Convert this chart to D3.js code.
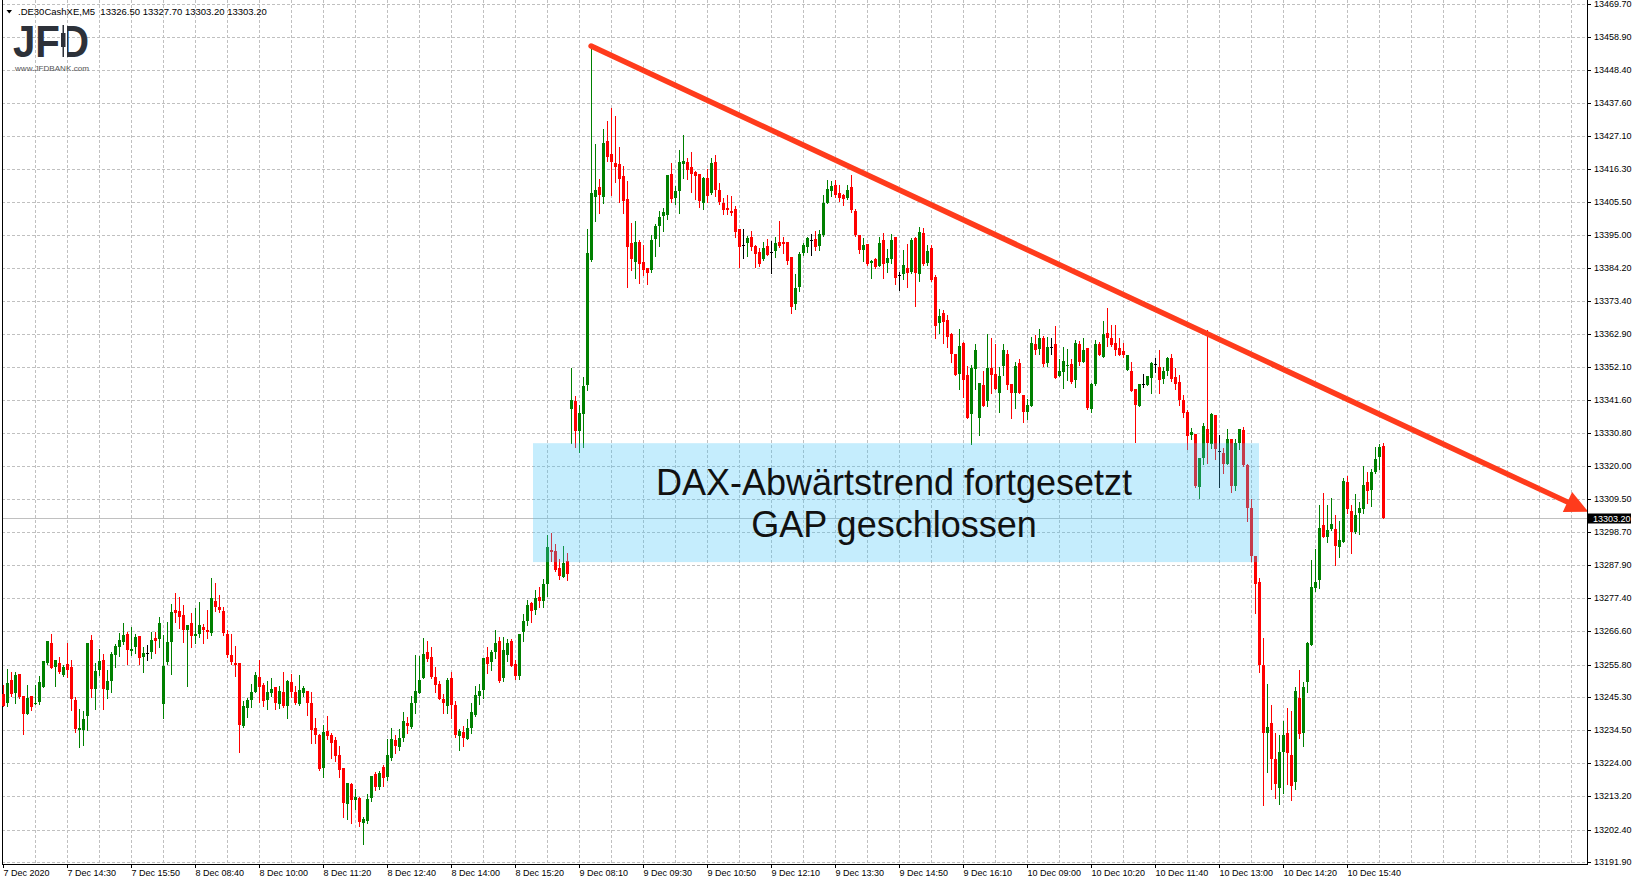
<!DOCTYPE html>
<html><head><meta charset="utf-8">
<script src="https://cdn.jsdelivr.net/npm/d3@7"></script>
<style>
html,body{margin:0;padding:0;background:#fff;overflow:hidden}
svg{display:block;font-family:"Liberation Sans",Arial,sans-serif}
</style>
</head><body>
<svg id="chart" width="1637" height="886"></svg>
<script>
// ---------- data ----------
const symbol = ".DE30CashXE,M5";
const timeLabels = ["7 Dec 2020","7 Dec 14:30","7 Dec 15:50","8 Dec 08:40","8 Dec 10:00","8 Dec 11:20","8 Dec 12:40","8 Dec 14:00","8 Dec 15:20","9 Dec 08:10","9 Dec 09:30","9 Dec 10:50","9 Dec 12:10","9 Dec 13:30","9 Dec 14:50","9 Dec 16:10","10 Dec 09:00","10 Dec 10:20","10 Dec 11:40","10 Dec 13:00","10 Dec 14:20","10 Dec 15:40"];
const barsPerLabel = 16;
const priceTicks = [13469.70,13458.90,13448.40,13437.60,13427.10,13416.30,13405.50,13395.00,13384.20,13373.40,13362.90,13352.10,13341.60,13330.80,13320.00,13309.50,13298.70,13287.90,13277.40,13266.60,13255.80,13245.30,13234.50,13224.00,13213.20,13202.40,13191.90];

const openP = [13246.2,13243.5,13250.8,13246.6,13252.7,13245.6,13239.8,13245.6,13243.0,13243.7,
13248.7,13256.3,13262.7,13255.0,13256.3,13252.4,13255.9,13255.0,13244.3,13234.6,
13234.6,13239.1,13263.7,13247.9,13254.0,13257.2,13247.5,13250.4,13258.9,13261.4,
13263.1,13265.6,13260.2,13261.4,13265.0,13258.2,13259.7,13259.8,13264.3,13264.0,
13243.0,13256.6,13263.1,13273.4,13273.1,13271.8,13266.9,13269.2,13265.0,13265.6,
13267.9,13266.9,13266.0,13276.3,13274.4,13273.1,13265.6,13258.9,13256.3,13256.3,
13235.9,13241.7,13244.3,13246.9,13251.7,13249.1,13244.3,13246.6,13248.5,13243.0,
13246.9,13242.4,13250.1,13246.9,13243.0,13246.6,13247.2,13243.3,13235.2,13233.0,
13222.3,13234.3,13233.0,13231.4,13226.5,13222.3,13210.7,13217.1,13212.0,13212.6,
13204.5,13205.2,13212.6,13220.4,13216.2,13222.6,13219.4,13225.5,13231.4,13229.1,
13232.0,13236.9,13235.6,13243.3,13246.6,13251.4,13259.8,13258.2,13251.7,13249.5,
13244.6,13242.4,13251.4,13242.7,13232.7,13233.9,13231.7,13235.2,13239.4,13245.6,
13247.5,13258.2,13256.6,13259.8,13263.4,13251.4,13258.8,13263.4,13255.9,13252.1,
13266.3,13269.8,13275.7,13273.4,13277.6,13276.3,13281.8,13292.8,13292.5,13287.0,
13284.1,13289.2,13338.7,13341.3,13331.6,13337.1,13346.2,13386.9,13407.3,13410.5,
13407.3,13425.4,13421.2,13418.3,13418.0,13414.1,13406.6,13392.4,13386.3,13392.7,
13386.3,13384.3,13383.7,13393.7,13397.9,13401.2,13401.5,13414.7,13407.0,13409.2,
13418.0,13418.6,13417.0,13415.4,13414.7,13405.4,13413.4,13408.6,13418.6,13409.6,
13405.4,13403.7,13402.8,13403.4,13396.9,13391.8,13392.4,13394.4,13391.4,13389.5,
13387.2,13391.4,13389.5,13389.8,13392.7,13392.7,13392.7,13387.9,13372.7,13378.2,
13389.2,13391.1,13393.4,13393.7,13391.4,13395.0,13405.3,13409.2,13411.2,13408.6,
13407.9,13407.0,13410.5,13402.8,13395.0,13390.1,13392.1,13385.9,13387.2,13385.0,
13393.4,13385.9,13387.2,13394.4,13381.9,13382.4,13384.3,13383.0,13394.0,13382.4,
13395.6,13385.9,13390.8,13381.4,13366.5,13369.8,13367.5,13363.0,13356.5,13350.0,
13360.1,13349.5,13336.8,13351.6,13335.8,13346.2,13341.0,13351.7,13350.0,13343.9,
13352.6,13356.5,13346.8,13343.9,13353.6,13343.2,13337.7,13339.4,13359.7,13358.1,
13361.7,13353.6,13358.8,13359.7,13349.4,13350.7,13352.7,13353.3,13347.8,13359.7,
13353.9,13358.4,13338.7,13346.8,13359.7,13355.5,13363.3,13361.7,13360.1,13358.4,
13357.5,13351.3,13351.0,13345.2,13339.7,13346.8,13346.5,13348.7,13353.2,13352.2,
13348.4,13350.9,13355.1,13349.0,13347.3,13341.4,13337.6,13330.3,13330.6,13313.3,
13322.8,13332.2,13327.4,13336.5,13325.0,13324.4,13320.8,13329.0,13313.6,13327.6,
13331.8,13320.4,13306.4,13291.1,13282.7,13255.8,13233.6,13236.8,13225.2,13216.0,
13227.4,13233.6,13226.5,13217.7,13244.9,13233.8,13250.2,13262.2,13280.6,13283.2,
13300.9,13297.1,13299.6,13299.6,13293.9,13295.5,13314.8,13305.7,13298.7,13304.8,
13306.2,13314.8,13312.3,13318.3,13322.9,13326.5];

const highP = [13249.2,13254.3,13253.3,13253.3,13252.7,13245.8,13249.2,13245.6,13249.2,13252.1,
13256.9,13263.4,13265.6,13257.2,13258.2,13255.6,13262.7,13257.2,13245.3,13241.4,
13240.7,13262.7,13265.3,13256.3,13260.8,13259.2,13254.0,13259.8,13262.4,13266.0,
13269.2,13266.3,13267.9,13265.6,13265.0,13261.4,13262.1,13266.3,13266.3,13271.1,
13265.3,13269.5,13275.4,13278.9,13277.6,13275.0,13268.6,13272.4,13274.1,13276.0,
13268.9,13273.4,13283.8,13282.1,13278.3,13274.4,13266.9,13265.6,13261.7,13256.3,
13244.0,13245.0,13249.5,13253.3,13257.2,13249.8,13250.4,13251.4,13248.5,13248.8,
13253.3,13250.8,13252.7,13248.8,13252.4,13248.8,13247.2,13246.9,13238.5,13233.3,
13236.2,13239.1,13233.6,13232.3,13229.4,13222.3,13217.5,13217.5,13215.5,13212.9,
13206.5,13213.9,13219.7,13221.0,13221.3,13223.3,13231.7,13235.2,13233.0,13234.9,
13240.4,13238.8,13245.6,13258.9,13258.5,13264.3,13263.4,13261.4,13255.0,13250.4,
13246.2,13251.4,13253.4,13244.0,13234.9,13235.9,13238.1,13243.3,13248.8,13249.5,
13257.9,13261.4,13260.5,13266.9,13264.7,13264.7,13264.0,13264.0,13257.2,13265.6,
13272.1,13276.6,13276.0,13279.9,13280.8,13283.4,13297.7,13298.3,13294.7,13289.9,
13294.1,13291.8,13352.0,13342.9,13340.0,13348.8,13396.9,13456.5,13424.4,13413.1,
13429.3,13431.9,13436.1,13433.5,13423.5,13417.3,13412.5,13398.9,13399.5,13393.4,
13391.8,13384.3,13395.0,13398.6,13402.8,13403.7,13414.4,13418.3,13410.8,13422.5,
13427.3,13419.9,13421.8,13415.7,13414.7,13413.8,13416.3,13419.9,13420.9,13411.8,
13407.0,13407.9,13407.6,13404.4,13396.9,13396.9,13394.7,13396.3,13391.8,13390.8,
13392.7,13393.7,13393.1,13394.4,13399.5,13394.4,13392.7,13387.9,13382.4,13389.5,
13392.4,13394.4,13395.3,13396.3,13396.6,13407.9,13412.8,13412.5,13412.8,13411.2,
13408.3,13411.2,13414.4,13403.4,13395.0,13394.0,13392.1,13386.9,13387.6,13394.4,
13395.6,13390.5,13395.3,13394.4,13383.0,13390.1,13392.1,13394.0,13394.4,13397.6,
13397.3,13391.8,13391.8,13382.1,13371.1,13370.7,13369.1,13363.3,13356.5,13364.6,
13360.4,13352.5,13352.9,13359.7,13347.1,13351.0,13363.0,13361.7,13359.7,13352.3,
13359.7,13357.8,13346.8,13353.9,13354.6,13343.2,13341.9,13362.0,13362.6,13364.6,
13362.3,13362.0,13361.7,13365.6,13354.9,13358.8,13358.1,13354.6,13361.0,13360.7,
13361.4,13358.4,13347.1,13361.0,13360.4,13367.2,13371.4,13365.9,13365.9,13361.7,
13360.1,13356.2,13353.9,13345.2,13346.8,13350.0,13349.4,13353.9,13355.1,13357.7,
13352.2,13355.4,13356.5,13351.9,13349.6,13343.1,13338.3,13332.5,13330.6,13322.8,
13334.0,13364.2,13337.3,13336.7,13330.3,13326.1,13332.1,13329.0,13328.7,13332.2,
13332.9,13320.7,13309.3,13291.1,13283.7,13264.5,13249.5,13242.7,13233.8,13233.0,
13237.5,13241.7,13240.7,13248.5,13254.0,13250.1,13263.0,13289.6,13293.1,13307.4,
13311.5,13307.4,13309.6,13304.1,13302.2,13316.1,13317.0,13307.4,13311.2,13308.3,
13320.0,13318.3,13319.3,13326.4,13327.4,13327.7];

const lowP = [13242.5,13242.5,13245.7,13243.3,13245.1,13233.3,13239.8,13241.1,13243.0,13243.0,
13248.4,13255.9,13254.7,13248.8,13253.0,13252.1,13251.7,13241.1,13233.9,13229.1,
13229.8,13234.6,13245.3,13241.4,13252.4,13241.4,13245.0,13246.9,13255.0,13258.5,
13262.4,13256.0,13258.9,13259.5,13256.0,13253.4,13257.2,13257.9,13259.5,13261.4,
13238.5,13255.9,13252.7,13269.5,13267.6,13263.1,13248.8,13261.4,13262.7,13264.7,
13262.7,13264.3,13265.3,13273.1,13272.8,13265.3,13258.2,13255.9,13252.2,13227.6,
13235.6,13238.8,13242.0,13246.9,13243.6,13242.4,13241.4,13245.6,13241.4,13241.7,
13242.0,13238.5,13245.3,13243.0,13242.7,13245.6,13239.5,13230.4,13230.4,13221.7,
13219.4,13231.7,13225.5,13224.6,13219.4,13206.5,13205.8,13204.5,13209.0,13203.5,
13197.7,13204.5,13211.6,13215.2,13215.5,13216.5,13218.4,13224.9,13227.2,13228.1,
13231.0,13233.6,13235.2,13240.1,13246.6,13251.4,13256.9,13251.4,13246.9,13244.6,
13240.1,13240.0,13238.5,13232.3,13228.1,13229.4,13231.7,13233.6,13239.1,13243.0,
13244.9,13253.0,13254.0,13257.9,13250.1,13250.4,13256.9,13255.3,13251.1,13251.1,
13263.4,13268.5,13269.5,13272.1,13274.4,13274.4,13277.9,13289.3,13286.0,13283.4,
13284.1,13283.1,13327.7,13326.4,13324.8,13326.4,13344.6,13386.6,13399.5,13402.1,
13405.4,13418.9,13407.9,13412.1,13405.7,13402.1,13378.2,13383.7,13381.1,13379.5,
13382.1,13379.2,13383.0,13388.2,13391.4,13396.3,13400.2,13405.7,13405.0,13402.1,
13413.4,13413.1,13408.9,13406.6,13404.1,13403.4,13405.7,13408.3,13407.6,13405.0,
13401.8,13401.8,13401.5,13394.4,13384.7,13387.6,13388.2,13390.1,13384.7,13385.0,
13386.9,13388.5,13382.7,13387.9,13391.1,13389.2,13385.6,13369.8,13370.8,13376.9,
13388.5,13389.5,13388.5,13390.1,13390.1,13394.7,13405.3,13407.6,13407.3,13406.0,
13404.7,13406.6,13402.4,13394.7,13389.2,13386.6,13385.3,13381.1,13384.3,13385.0,
13381.1,13383.0,13385.9,13379.1,13377.2,13380.8,13378.2,13382.7,13372.0,13380.1,
13385.3,13385.3,13380.1,13361.7,13363.3,13360.1,13358.5,13353.9,13349.7,13345.2,
13342.6,13335.8,13327.1,13344.9,13330.3,13339.7,13339.4,13343.6,13344.9,13337.7,
13349.7,13345.2,13335.8,13339.0,13343.6,13334.5,13335.2,13339.4,13356.5,13356.5,
13352.6,13352.6,13356.5,13348.7,13349.4,13345.5,13348.1,13347.1,13345.8,13352.9,
13353.9,13338.7,13337.7,13346.5,13355.9,13355.5,13359.1,13359.1,13356.2,13356.2,
13355.5,13351.3,13344.5,13328.0,13339.7,13345.8,13346.2,13343.9,13350.5,13343.6,
13347.0,13349.6,13347.7,13345.1,13339.9,13335.9,13325.7,13328.9,13313.4,13309.8,
13320.9,13321.1,13325.9,13322.4,13313.4,13318.0,13320.8,13311.7,13312.5,13325.5,
13320.1,13302.4,13289.5,13272.4,13253.4,13210.3,13220.9,13215.5,13212.5,13210.7,
13214.2,13217.1,13212.0,13215.5,13231.9,13229.5,13247.0,13262.2,13279.5,13280.6,
13297.2,13295.5,13299.3,13288.0,13290.6,13295.5,13304.8,13291.9,13298.5,13298.1,
13304.8,13308.1,13307.1,13318.0,13319.0,13303.2];

const closeP = [13242.5,13250.0,13246.2,13252.4,13245.4,13239.8,13245.0,13242.1,13243.5,13250.1,
13256.9,13263.4,13254.7,13257.2,13253.4,13255.0,13254.0,13244.6,13234.9,13235.2,
13238.2,13262.7,13247.9,13253.7,13256.9,13247.9,13250.4,13259.2,13261.8,13263.7,
13265.3,13260.5,13260.8,13264.7,13257.9,13259.5,13259.7,13263.7,13263.4,13269.2,
13255.3,13263.1,13272.8,13272.4,13271.1,13266.9,13268.6,13265.0,13265.6,13268.6,
13266.9,13266.3,13277.3,13274.4,13273.4,13266.0,13258.9,13256.7,13255.6,13236.2,
13242.4,13244.3,13246.9,13252.4,13248.5,13244.0,13246.9,13247.9,13243.3,13247.2,
13242.4,13250.4,13246.9,13243.3,13247.5,13248.2,13243.3,13234.6,13233.0,13222.0,
13234.0,13232.7,13230.4,13226.2,13221.7,13211.0,13217.5,13212.0,13212.9,13204.8,
13205.8,13212.3,13219.7,13216.2,13220.7,13219.1,13226.5,13231.7,13229.4,13232.0,
13237.5,13235.9,13243.3,13247.2,13250.8,13259.2,13257.6,13251.7,13249.2,13244.6,
13243.3,13250.8,13242.8,13233.0,13234.4,13232.0,13235.2,13240.4,13245.9,13247.2,
13257.9,13255.9,13259.8,13262.7,13250.4,13260.5,13262.7,13255.3,13252.1,13265.6,
13269.8,13275.0,13273.1,13277.3,13276.3,13281.8,13293.8,13292.4,13286.3,13284.4,
13288.6,13285.0,13341.6,13331.3,13337.4,13345.9,13389.2,13408.6,13409.6,13407.9,
13424.8,13420.2,13418.6,13417.0,13413.1,13406.0,13391.1,13387.2,13392.7,13385.6,
13383.7,13382.7,13393.4,13397.9,13400.8,13402.5,13414.4,13406.6,13409.2,13418.6,
13418.9,13416.0,13414.7,13414.1,13406.0,13413.4,13407.6,13418.3,13409.6,13405.7,
13403.1,13403.1,13402.1,13396.0,13391.1,13391.8,13394.0,13391.1,13388.9,13385.6,
13390.8,13388.5,13389.5,13392.4,13391.4,13392.1,13386.6,13371.7,13377.9,13388.8,
13391.7,13394.0,13393.4,13391.1,13395.3,13405.3,13409.9,13410.8,13407.9,13407.0,
13406.6,13409.6,13403.1,13395.0,13390.1,13391.8,13385.6,13386.6,13384.6,13392.4,
13385.6,13387.6,13393.4,13381.1,13381.9,13385.3,13382.7,13393.4,13382.7,13396.0,
13385.6,13389.8,13380.4,13365.6,13368.8,13366.9,13362.0,13356.5,13349.7,13359.1,
13347.8,13335.8,13351.7,13357.8,13347.1,13339.7,13351.7,13349.7,13344.9,13349.1,
13357.8,13346.2,13343.9,13352.6,13343.6,13337.7,13340.0,13360.1,13357.8,13361.7,
13353.3,13358.8,13358.8,13348.7,13351.0,13354.2,13352.9,13347.4,13360.1,13353.9,
13357.8,13339.0,13346.8,13359.7,13355.9,13363.0,13361.7,13359.4,13357.8,13356.2,
13355.9,13355.9,13344.5,13340.0,13346.8,13346.8,13349.1,13353.6,13353.2,13347.8,
13350.9,13355.2,13348.3,13346.7,13341.4,13337.3,13329.9,13331.2,13313.7,13322.8,
13333.1,13327.6,13336.8,13325.5,13325.0,13320.9,13328.7,13313.8,13327.6,13332.2,
13320.3,13306.4,13291.1,13281.8,13255.6,13233.6,13235.6,13225.2,13217.1,13227.4,
13233.0,13227.1,13216.6,13247.2,13233.4,13248.5,13262.7,13280.8,13282.4,13300.2,
13297.2,13299.3,13301.2,13294.2,13296.0,13315.1,13306.1,13298.9,13304.1,13306.4,
13314.1,13312.0,13318.3,13322.5,13326.4,13303.2];

const lastPrice = 13303.20;
const headlineLines = ["DAX-Abwärtstrend fortgesetzt", "GAP geschlossen"];
// annotations (bar index, price)
const trendFrom = [146.9, 13456.1];
const trendTo   = [396.2, 13305.3];
const gapBoxBars = [132.5, 314.0];
const gapBoxPrices = [13327.5, 13289.0];

// ---------- layout ----------
const W = 1637, H = 886;
const plotLeft = 2, plotRight = 1587, plotBottom = 864;
const N = openP.length;
const svg = d3.select("#chart");

const x = d3.scaleLinear().domain([0, N - 1]).range([3, 3 + 4 * (N - 1)]);
const y = d3.scaleLinear().domain([13191.9, 13469.7]).range([862, 4]).interpolate(d3.interpolateRound);
const yf = d3.scaleLinear().domain([13191.9, 13469.7]).range([862, 4]);

svg.append("rect").attr("width", W).attr("height", H).attr("fill", "#fff");

// grid
const grid = svg.append("g").attr("stroke", "#c0c0c0").attr("stroke-dasharray", "3,2").attr("shape-rendering", "crispEdges");
priceTicks.forEach(v => {
  grid.append("line").attr("x1", plotLeft).attr("x2", plotRight).attr("y1", y(v) + 0.5).attr("y2", y(v) + 0.5);
});
for (let k = 1; x(8 * k) < plotRight; k++) {
  grid.append("line").attr("x1", x(8 * k) + 0.5).attr("x2", x(8 * k) + 0.5).attr("y1", 0).attr("y2", plotBottom);
}

// bid line
svg.append("line").attr("x1", plotLeft).attr("x2", plotRight)
  .attr("y1", y(lastPrice) + 0.5).attr("y2", y(lastPrice) + 0.5)
  .attr("stroke", "#c0c0c0").attr("shape-rendering", "crispEdges");

// left border
svg.append("line").attr("x1", 2.5).attr("x2", 2.5).attr("y1", 0).attr("y2", plotBottom + 1)
  .attr("stroke", "#000").attr("shape-rendering", "crispEdges");

// candles
const bars = d3.range(N).map(i => ({
  i, o: openP[i], h: Math.max(highP[i], openP[i], closeP[i]), l: Math.min(lowP[i], openP[i], closeP[i]), c: closeP[i]
}));
const colorOf = d => d.c > d.o ? "#008000" : (d.c < d.o ? "#ff0000" : "#000000");
const cg = svg.append("g").attr("shape-rendering", "crispEdges");
cg.selectAll("rect.wick").data(bars).join("rect").attr("class", "wick")
  .attr("x", d => x(d.i)).attr("width", 1)
  .attr("y", d => y(d.h)).attr("height", d => Math.max(1, y(d.l) - y(d.h) + 1))
  .attr("fill", colorOf);
cg.selectAll("rect.body").data(bars).join("rect").attr("class", "body")
  .attr("x", d => x(d.i) - 1).attr("width", 3)
  .attr("y", d => y(Math.max(d.o, d.c)))
  .attr("height", d => Math.max(1, y(Math.min(d.o, d.c)) - y(Math.max(d.o, d.c))))
  .attr("fill", colorOf);

// gap box
const bx0 = x(gapBoxBars[0]), bx1 = x(gapBoxBars[1]);
const by0 = yf(gapBoxPrices[0]), by1 = yf(gapBoxPrices[1]);
svg.append("rect").attr("x", bx0).attr("y", by0).attr("width", bx1 - bx0).attr("height", by1 - by0)
  .attr("fill", "#3fc3f7").attr("fill-opacity", 0.3);

// headline text
const cx = (bx0 + bx1) / 2 - 2;
svg.append("text").attr("x", cx).attr("y", by0 + 52).attr("text-anchor", "middle")
  .attr("font-size", 36).attr("fill", "#111").text(headlineLines[0]);
svg.append("text").attr("x", cx).attr("y", by0 + 94).attr("text-anchor", "middle")
  .attr("font-size", 36).attr("fill", "#111").text(headlineLines[1]);

// trend line with arrow
const sx = x(trendFrom[0]) + 0.5, sy = yf(trendFrom[1]);
const tx = x(trendTo[0]) + 0.5, ty = yf(trendTo[1]);
const len = Math.hypot(tx - sx, ty - sy), ux = (tx - sx) / len, uy = (ty - sy) / len;
const headL = 23, headW = 11;
const bxh = tx - headL * ux, byh = ty - headL * uy;
svg.append("line").attr("x1", sx).attr("y1", sy).attr("x2", bxh + 2 * ux).attr("y2", byh + 2 * uy)
  .attr("stroke", "#ff3b1c").attr("stroke-width", 5.5).attr("stroke-linecap", "round");
svg.append("path").attr("d", `M${tx},${ty}L${bxh - headW * uy},${byh + headW * ux}L${bxh + headW * uy},${byh - headW * ux}Z`)
  .attr("fill", "#ff3b1c");

// axes
const yAxis = svg.append("g").attr("transform", `translate(${plotRight},0)`)
  .call(d3.axisRight(y).tickValues(priceTicks).tickFormat(d3.format(".2f")).tickSize(4).tickPadding(3));
yAxis.select(".domain").remove();
yAxis.selectAll("text").attr("font-size", 9).attr("font-family", "'Liberation Sans',Arial,sans-serif").attr("fill", "#000");
yAxis.selectAll("line").attr("stroke", "#000").attr("shape-rendering", "crispEdges");

const xAxis = svg.append("g").attr("transform", `translate(0,${plotBottom})`)
  .call(d3.axisBottom(x).tickValues(timeLabels.map((_, k) => k * barsPerLabel))
    .tickFormat((d, k) => timeLabels[k]).tickSize(4).tickPadding(2));
xAxis.select(".domain").remove();
xAxis.selectAll("text").attr("font-size", 9).attr("font-family", "'Liberation Sans',Arial,sans-serif")
  .attr("fill", "#000").attr("text-anchor", "start").attr("x", 0);
xAxis.selectAll("line").attr("stroke", "#000").attr("shape-rendering", "crispEdges");

// frame lines
svg.append("line").attr("x1", plotLeft).attr("x2", plotRight + 1).attr("y1", plotBottom + 0.5).attr("y2", plotBottom + 0.5)
  .attr("stroke", "#000").attr("shape-rendering", "crispEdges");
svg.append("line").attr("x1", plotRight + 0.5).attr("x2", plotRight + 0.5).attr("y1", 0).attr("y2", plotBottom + 1)
  .attr("stroke", "#000").attr("shape-rendering", "crispEdges");

// last price box
const ly = y(lastPrice);
svg.append("rect").attr("x", plotRight + 1).attr("y", ly - 4.5).attr("width", 43).attr("height", 10).attr("fill", "#000");
svg.append("text").attr("x", plotRight + 6).attr("y", ly + 0.5).attr("dy", "0.35em")
  .attr("font-size", 9).attr("fill", "#fff").text(d3.format(".2f")(lastPrice));

// header
const fmt = d3.format(".2f");
svg.append("path").attr("d", "M6.5,10 L12,10 L9.25,13.5 Z").attr("fill", "#000");
svg.append("text").attr("x", 18).attr("y", 15).attr("font-size", 9.5).attr("fill", "#000")
  .style("white-space", "pre")
  .text(`${symbol}  ${fmt(openP[N-1])} ${fmt(highP[N-1])} ${fmt(lowP[N-1])} ${fmt(closeP[N-1])}`);

// logo
const logo = svg.append("g");
logo.append("text").attr("x", 13).attr("y", 57).attr("font-size", 44).attr("font-weight", "bold")
  .attr("fill", "#2d3139").attr("textLength", 76).attr("lengthAdjust", "spacingAndGlyphs").text("JFD");
logo.append("rect").attr("x", 60).attr("y", 24).attr("width", 7).attr("height", 35).attr("fill", "#fff");
logo.append("rect").attr("x", 62.5).attr("y", 25).attr("width", 1.5).attr("height", 32).attr("fill", "#2d3139");
logo.append("rect").attr("x", 61).attr("y", 33).attr("width", 4.5).attr("height", 14).attr("fill", "#2d3139");
logo.append("text").attr("x", 15).attr("y", 70.5).attr("font-size", 8).attr("fill", "#555")
  .attr("textLength", 74).attr("lengthAdjust", "spacingAndGlyphs").text("www.JFDBANK.com");
</script>
</body></html>
